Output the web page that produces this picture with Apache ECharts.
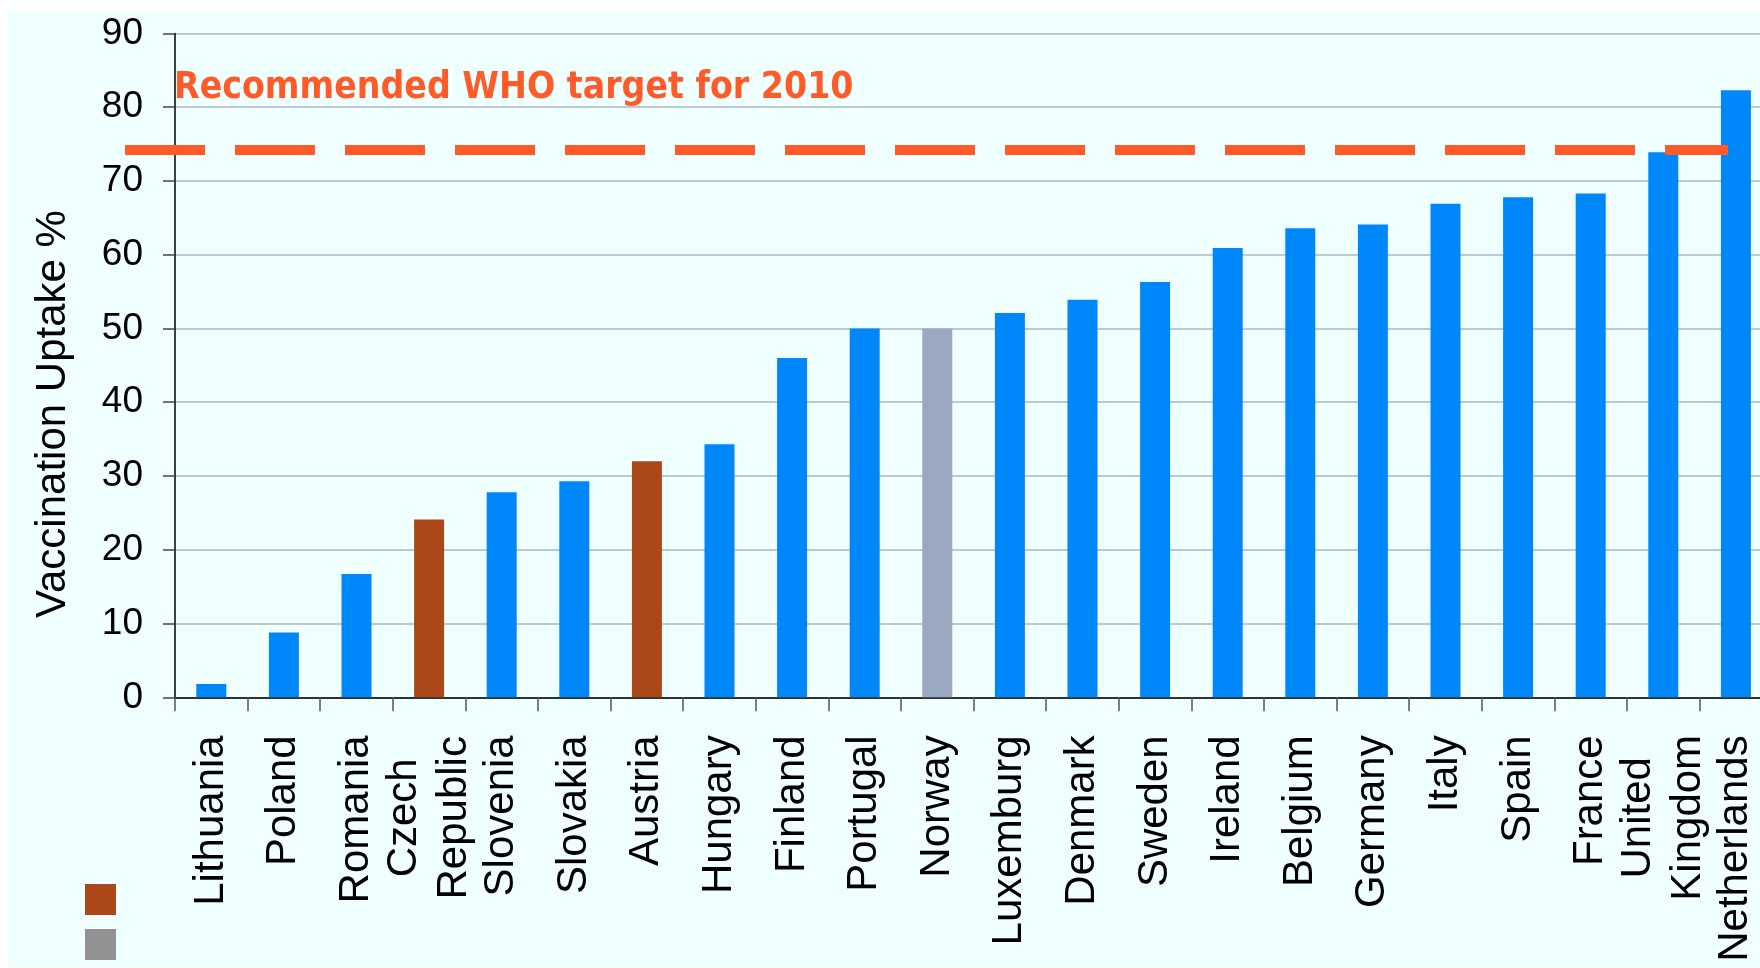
<!DOCTYPE html>
<html>
<head>
<meta charset="utf-8">
<script src="https://cdn.jsdelivr.net/npm/echarts@6/dist/echarts.min.js"></script>
<style>
  html, body { margin: 0; padding: 0; background: #ffffff; }
  #bg { position: absolute; left: 8px; top: 10px; width: 1752px; height: 957px; background: #F0FFFF; }
  #chart { position: absolute; left: 0; top: 0; width: 1760px; height: 968px; }
</style>
</head>
<body>
<div id="bg"></div>
<div id="chart"></div>
<script>
// ---- data ----
const categories = ['Lithuania', 'Poland', 'Romania', 'Czech\nRepublic', 'Slovenia', 'Slovakia', 'Austria',
  'Hungary', 'Finland', 'Portugal', 'Norway', 'Luxemburg', 'Denmark', 'Sweden', 'Ireland', 'Belgium',
  'Germany', 'Italy', 'Spain', 'France', 'United\nKingdom', 'Netherlands'];
const uptake = [1.8, 8.8, 16.7, 24.1, 27.8, 29.3, 32.0, 34.3, 46.0, 50.0, 50.0, 52.1, 53.9, 56.3, 60.9,
  63.6, 64.1, 66.9, 67.8, 68.3, 73.9, 82.3];
const group = ['eu', 'eu', 'eu', 'new', 'eu', 'eu', 'new', 'eu', 'eu', 'eu', 'nonEu', 'eu', 'eu', 'eu', 'eu',
  'eu', 'eu', 'eu', 'eu', 'eu', 'eu', 'eu'];
const yTicks = { min: 0, max: 90, interval: 10 };
const WHO_TARGET = 74.2;
const targetLabel = 'Recommended WHO target for 2010';
const yAxisTitle = 'Vaccination Uptake %';

const groupColor = { eu: '#0088FA', new: '#AB4718', nonEu: '#9BA8C2' };
const labelFont = '"Liberation Sans", Arial, sans-serif';

const chart = echarts.init(document.getElementById('chart'), null, { renderer: 'canvas' });

const option = {
  backgroundColor: 'transparent',
  animation: false,
  grid: { left: 175, top: 33.4, width: 1597.2, height: 663.9, containLabel: false, outerBoundsMode: 'none' },
  xAxis: {
    type: 'category',
    data: categories,
    axisLine: { show: true, lineStyle: { color: '#000000', width: 1.5 } },
    axisTick: { show: true, length: 14, lineStyle: { color: '#555555', width: 1.5 } },
    axisLabel: {
      rotate: 90,
      interval: 0,
      margin: 38,
      color: '#000000',
      fontSize: 42,
      lineHeight: 50,
      fontFamily: labelFont,
      formatter: function (v) {
        if (v.indexOf('\n') >= 0) {
          return v.split('\n').map(function (s) { return '{c|' + s + '}'; }).join('\n');
        }
        return v;
      },
      rich: {
        c: { width: 165, align: 'center', fontSize: 42, lineHeight: 50, fontFamily: labelFont, color: '#000000' }
      }
    },
    splitLine: { show: false }
  },
  yAxis: {
    type: 'value',
    min: yTicks.min,
    max: yTicks.max,
    interval: yTicks.interval,
    axisLine: { show: true, lineStyle: { color: '#000000', width: 1.5 } },
    axisTick: { show: true, length: 12, lineStyle: { color: '#444444', width: 1.5 } },
    axisLabel: { color: '#000000', fontSize: 37, margin: 32, fontFamily: labelFont },
    splitLine: { show: true, lineStyle: { color: '#A9B7CA', width: 1.5 } }
  },
  series: [{
    type: 'bar',
    barWidth: 30,
    data: uptake.map(function (v, i) {
      return { value: v, itemStyle: { color: groupColor[group[i]] } };
    }),
    z: 2
  }]
};
chart.setOption(option);

const yTarget = chart.convertToPixel({ yAxisIndex: 0 }, WHO_TARGET);
chart.setOption({
  graphic: [
    {
      type: 'line', z: 100,
      shape: { x1: 125, y1: yTarget, x2: 1728, y2: yTarget },
      style: { stroke: '#FF5A28', lineWidth: 10, lineDash: [80, 30] }
    },
    {
      type: 'text', z: 100, left: 174, top: 70,
      style: {
        text: targetLabel, fill: '#FF5A28',
        font: 'bold 37px "DejaVu Sans Condensed", "DejaVu Sans", sans-serif'
      }
    },
    {
      type: 'text', z: 100, x: 53, y: 414, rotation: Math.PI / 2,
      style: {
        text: yAxisTitle, fill: '#000000', align: 'center', verticalAlign: 'middle',
        font: '42px "Liberation Sans", Arial, sans-serif'
      }
    },
    { type: 'rect', z: 100, shape: { x: 85, y: 884, width: 31, height: 31 }, style: { fill: '#AB4718' } },
    { type: 'rect', z: 100, shape: { x: 85, y: 929, width: 31, height: 31 }, style: { fill: '#929292' } }
  ]
});
</script>
</body>
</html>
